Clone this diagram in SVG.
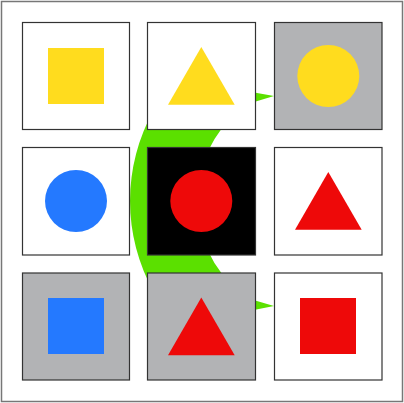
<svg xmlns="http://www.w3.org/2000/svg" width="404" height="403" viewBox="0 0 404 403">
<style>
.cell{stroke:#333;stroke-width:1.2}
.w{fill:#fff}.g{fill:#b2b3b5}.k{fill:#000}
.y{fill:#ffdc1e}.b{fill:#2479ff}.r{fill:#ee0909}
.arc{fill:#5be000}
</style>
<rect x="1.5" y="1.5" width="401" height="400" fill="#fff" stroke="#777" stroke-width="1.5"/>
<g id="connectors">
<path class="arc" d="M153.8,110 A186,186 0 0 0 153.8,292 L239.4,292 A119,119 0 0 1 239.4,110 Z"/>
<polygon class="arc" points="250,91.7 274,96 250,103.3"/>
<polygon class="arc" points="250,299 274,306 250,310.7"/>
</g>
<g id="n00"><rect class="cell w" x="22.5" y="22.5" width="107" height="107"/><rect class="y" x="48" y="48" width="56" height="56"/></g>
<g id="n01"><rect class="cell w" x="147.5" y="22.5" width="108" height="107"/><polygon class="y" points="201.3,47 234.7,104.7 168,104.7"/></g>
<g id="n02"><rect class="cell g" x="274.5" y="22.5" width="107.5" height="107"/><circle class="y" cx="328.3" cy="76" r="31"/></g>
<g id="n10"><rect class="cell w" x="22.5" y="147.5" width="107" height="107.5"/><circle class="b" cx="76" cy="201" r="31"/></g>
<g id="n11"><rect class="cell k" x="147.5" y="147.5" width="108" height="107.5"/><circle class="r" cx="201.3" cy="201" r="31"/></g>
<g id="n12"><rect class="cell w" x="274.5" y="147.5" width="107.5" height="107.5"/><polygon class="r" points="328.3,172 361.7,229.7 295,229.7"/></g>
<g id="n20"><rect class="cell g" x="22.5" y="273" width="107" height="107"/><rect class="b" x="48" y="298" width="56" height="56"/></g>
<g id="n21"><rect class="cell g" x="147.5" y="273" width="108" height="107"/><polygon class="r" points="201.3,297.5 234.7,355.2 168,355.2"/></g>
<g id="n22"><rect class="cell w" x="274.5" y="273" width="107.5" height="107"/><rect class="r" x="300" y="298" width="56" height="56"/></g>
</svg>
